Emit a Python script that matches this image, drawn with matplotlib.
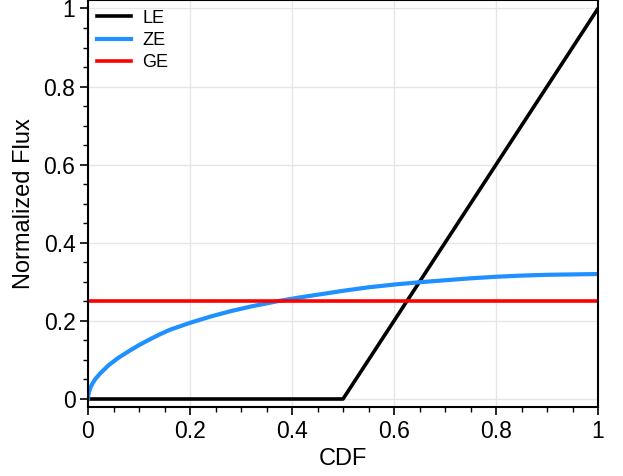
import matplotlib
matplotlib.use("Agg")
import matplotlib.pyplot as plt
from matplotlib.ticker import MultipleLocator

plt.rcParams['font.family'] = ['Liberation Sans', 'DejaVu Sans']

le_x = [0.0, 0.5, 1.0]
le_y = [0.0, 0.0, 1.0]

ze_x = [0.0, 0.0005, 0.002, 0.005, 0.0085, 0.0137, 0.0235, 0.04, 0.059, 0.082,
        0.1, 0.12, 0.14, 0.16, 0.2, 0.24, 0.28, 0.32, 0.37, 0.41, 0.45, 0.5,
        0.55, 0.6, 0.65, 0.7, 0.75, 0.8, 0.85, 0.9, 0.95, 1.0]
ze_y = [0.0, 0.009, 0.018, 0.030, 0.039, 0.050, 0.065, 0.086, 0.105, 0.124,
        0.138, 0.152, 0.165, 0.177, 0.195, 0.211, 0.225, 0.237, 0.250, 0.259,
        0.267, 0.277, 0.286, 0.293, 0.299, 0.304, 0.309, 0.313, 0.316, 0.318,
        0.319, 0.32]

ge_x = [0.0, 1.0]
ge_y = [0.25, 0.25]

xticks = [0, 0.2, 0.4, 0.6, 0.8, 1]
xticklabels = ['0', '0.2', '0.4', '0.6', '0.8', '1']
yticks = [0, 0.2, 0.4, 0.6, 0.8, 1]
yticklabels = ['0', '0.2', '0.4', '0.6', '0.8', '1']

fig = plt.figure(figsize=(6.23, 4.76), dpi=100)
ax = fig.add_axes([88/623, 69/476, 510/623, 407/476 - 0.001])

ax.plot(le_x, le_y, color='black', lw=2.6, label='LE')
ax.plot(ze_x, ze_y, color='#1E90FF', lw=3.0, label='ZE')
ax.plot(ge_x, ge_y, color='#FF0000', lw=2.6, label='GE')

ax.set_xlim(0, 1)
ax.set_ylim(-0.0205, 1.0205)
ax.set_xticks(xticks)
ax.set_xticklabels(xticklabels)
ax.set_yticks(yticks)
ax.set_yticklabels(yticklabels)
ax.xaxis.set_minor_locator(MultipleLocator(0.05))
ax.yaxis.set_minor_locator(MultipleLocator(0.05))
ax.tick_params(axis='both', which='major', direction='out', length=6, width=1.2,
               labelsize=16.5, top=False, right=False, pad=3)
ax.tick_params(axis='both', which='minor', direction='out', length=3.5, width=1,
               top=False, right=False)
ax.grid(True, which='major', color='#e6e6e6', lw=1)
ax.set_axisbelow(True)
for s in ax.spines.values():
    s.set_linewidth(1.5)
    s.set_color('black')

ax.set_xlabel('CDF', fontsize=17, labelpad=4)
ax.set_ylabel('Normalized Flux', fontsize=17, labelpad=6)

ax.legend(loc='upper left', frameon=False, fontsize=13, handlelength=1.9,
          handletextpad=0.6, borderaxespad=0.1, labelspacing=0.3,
          bbox_to_anchor=(0.0, 1.0))

fig.savefig('out.png', dpi=100)
